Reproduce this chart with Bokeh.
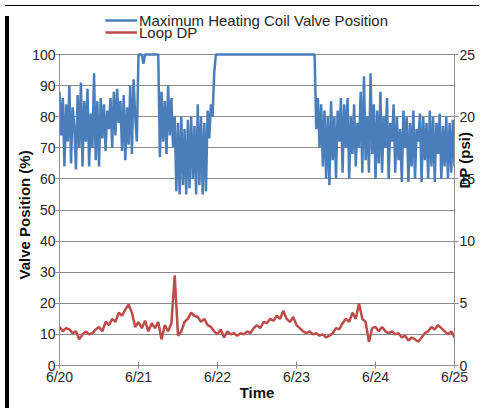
import math
import numpy as np
from bokeh.plotting import figure
from bokeh.layouts import column, row
from bokeh.models import Range1d, LinearAxis, FixedTicker, Legend, LegendItem, Title, Div
from bokeh.embed import file_html
from bokeh.resources import INLINE

# ---- data ----
day_labels = ["6/20", "6/21", "6/22", "6/23", "6/24", "6/25"]
day_ticks = [0, 1, 2, 3, 4, 5]
valve_ticks = [0, 10, 20, 30, 40, 50, 60, 70, 80, 90, 100]
dp_ticks = [0, 5, 10, 15, 20, 25]

# Maximum heating coil valve position (%), half-hour samples from 6/20 00:00
valve_d1 = [88, 74, 86, 64, 84, 72, 90, 65, 83, 77, 63, 87, 70, 91, 64, 85, 72, 89, 64, 81, 70, 94, 66, 85,
            64, 86, 73, 84, 69, 82, 76, 86, 70, 88, 74, 89, 78, 85, 69, 87, 66, 83, 71, 90, 68, 92, 80, 72]
valve_d2 = [100, 100, 100, 97, 100, 100, 100, 100, 100, 100, 100, 100, 100,
            67, 88, 72, 85, 68, 90, 74, 86, 70, 80, 56, 78, 55, 80, 58, 76, 55, 79, 57, 80,
            60, 77, 55, 84, 58, 80, 55, 78, 56, 82, 73, 84, 80, 94, 100]
valve_d3 = [100] * 48
valve_d4 = [100] * 12 + [76, 86, 70, 84, 64, 82, 60, 80, 58, 85, 66, 80, 60, 82, 72, 86, 62, 84,
                         70, 86, 60, 80, 68, 84, 64, 78, 70, 88, 62, 93, 66, 80, 62, 94, 68, 84]
valve_d5 = [60, 82, 65, 88, 62, 80, 70, 86, 60, 78, 72, 84, 62, 80, 66, 76, 59, 82, 70, 80,
            59, 78, 64, 82, 60, 76, 72, 81, 59, 80, 66, 78, 60, 82, 64, 80, 59, 78, 68, 81,
            60, 77, 64, 80, 60, 78, 62, 79, 64]
valve_pos = valve_d1 + valve_d2 + valve_d3 + valve_d4 + valve_d5

# Loop DP (psi), hourly samples from 6/20 00:00
loop_dp = [3.1, 2.75, 3.0, 2.9, 2.6, 2.75, 2.1, 2.5, 2.75, 2.5, 2.6, 2.9, 3.1, 2.75, 3.5, 3.25,
           3.75, 3.5, 4.25, 4.0, 4.5, 4.9, 4.25, 3.1, 3.5, 3.0, 3.6, 2.75, 3.4, 3.0, 3.5, 2.1,
           3.25, 2.75, 3.4, 7.25, 2.4, 2.75, 3.5, 3.75, 4.25, 4.0, 3.9, 3.5, 3.75, 3.25, 3.1, 2.75,
           2.5, 2.9, 2.25, 2.75, 2.5, 2.6, 2.4, 2.6, 2.5, 2.75, 2.6, 3.0, 3.25, 3.0, 3.5, 3.4,
           3.75, 3.6, 4.0, 3.75, 4.4, 3.75, 3.5, 3.9, 3.25, 3.0, 2.75, 2.6, 2.75, 2.5, 2.6, 2.4,
           2.5, 2.25, 2.4, 2.6, 3.0, 2.9, 3.4, 3.75, 3.5, 4.25, 3.75, 5.0, 3.75, 3.5, 1.9, 3.0,
           3.1, 2.75, 3.1, 2.75, 2.6, 2.75, 2.5, 2.6, 2.25, 2.4, 2.0, 2.25, 2.1, 1.9, 2.25, 2.6,
           2.75, 3.1, 2.9, 3.25, 3.0, 2.75, 2.5, 2.75, 2.25]

t_valve = np.arange(len(valve_pos)) / 48.0
t_dp = np.arange(len(loop_dp)) / 24.0

GRID = "#8c8c8c"
TXT = "#262626"
FONT = "Liberation Sans"

# frame reaches the top of the canvas so the legend (above 100 %) is inside it
Y_TOP = 113.83
DP_TOP = 25 * Y_TOP / 100.0

FIG_W, FIG_H = 470, 392

p = figure(width=FIG_W, height=FIG_H, output_backend="svg", toolbar_location=None,
           x_range=Range1d(0, 5), y_range=Range1d(0, Y_TOP),
           min_border_left=45, min_border_right=30, min_border_top=0, min_border_bottom=38)
p.extra_y_ranges = {"dp": Range1d(0, DP_TOP)}
p.outline_line_color = None
p.background_fill_color = "white"
p.border_fill_color = "white"

p.xgrid.visible = False
p.ygrid.ticker = FixedTicker(ticks=valve_ticks)
p.ygrid.grid_line_color = GRID
p.ygrid.grid_line_width = 1

def style_axis(ax):
    ax.axis_line_color = GRID
    ax.major_tick_line_color = GRID
    ax.minor_tick_line_color = None
    ax.major_label_text_font = FONT
    ax.major_label_text_font_size = "14px"
    ax.major_label_text_color = TXT
    ax.axis_label_text_font = FONT
    ax.axis_label_text_font_size = "15px"
    ax.axis_label_text_font_style = "bold"
    ax.axis_label_text_color = "#111111"

xa = p.xaxis[0]
xa.ticker = FixedTicker(ticks=day_ticks)
xa.major_label_overrides = {t: l for t, l in zip(day_ticks, day_labels)}
xa.axis_label = "Time"
style_axis(xa)
xa.major_tick_in = 4
xa.major_tick_out = 3
xa.major_label_standoff = 0
xa.axis_label_standoff = -4

ya = p.yaxis[0]
ya.ticker = FixedTicker(ticks=valve_ticks)
ya.bounds = (0, 100)
style_axis(ya)
ya.major_tick_in = 0
ya.major_tick_out = 4
ya.major_label_standoff = 0

ra = LinearAxis(y_range_name="dp", ticker=FixedTicker(ticks=dp_ticks), bounds=(0, 25),
                axis_label="DP (psi)")
style_axis(ra)
ra.major_tick_in = 0
ra.major_tick_out = 4
ra.major_label_standoff = 1
ra.axis_label_standoff = -14
if "axis_label_orientation" in ra.properties():
    ra.axis_label_orientation = math.pi / 2
p.add_layout(ra, "right")

ytitle = Title(text="Valve Position (%)", align="left", offset=86, standoff=-6,
               text_font=FONT, text_font_size="15px", text_font_style="bold",
               text_color="#111111")
p.add_layout(ytitle, "left")

r1 = p.line(t_valve, valve_pos, line_color="#4A7EBB", line_width=2.5)
r2 = p.line(t_dp, loop_dp, y_range_name="dp", line_color="#BE4B48", line_width=2.5)

def make_legend(label, rend, loc):
    return Legend(items=[LegendItem(label=label, renderers=[rend])],
                  location=loc, margin=0, padding=0, spacing=0,
                  glyph_width=32, glyph_height=20, label_height=20, label_standoff=2,
                  label_text_font=FONT, label_text_font_size="15px", label_text_color=TXT,
                  background_fill_alpha=0, border_line_color=None)

p.add_layout(make_legend("Maximum Heating Coil Valve Position", r1, (46, 335)), "center")
p.add_layout(make_legend("Loop DP", r2, (46, 323)), "center")

# black frame round the chart (left, top and bottom), as in the reference
BLACK = {"background-color": "#000000"}
top_bar = Div(text="", width=4 + FIG_W, height=1, styles=BLACK)
left_bar = Div(text="", width=4, height=FIG_H, styles=BLACK)
bottom_bar = Div(text="", width=4 + FIG_W, height=4, styles=BLACK)

page = column(top_bar, row(left_bar, p, spacing=0), bottom_bar, spacing=0)
open("out.html", "w").write(file_html(page, INLINE))
